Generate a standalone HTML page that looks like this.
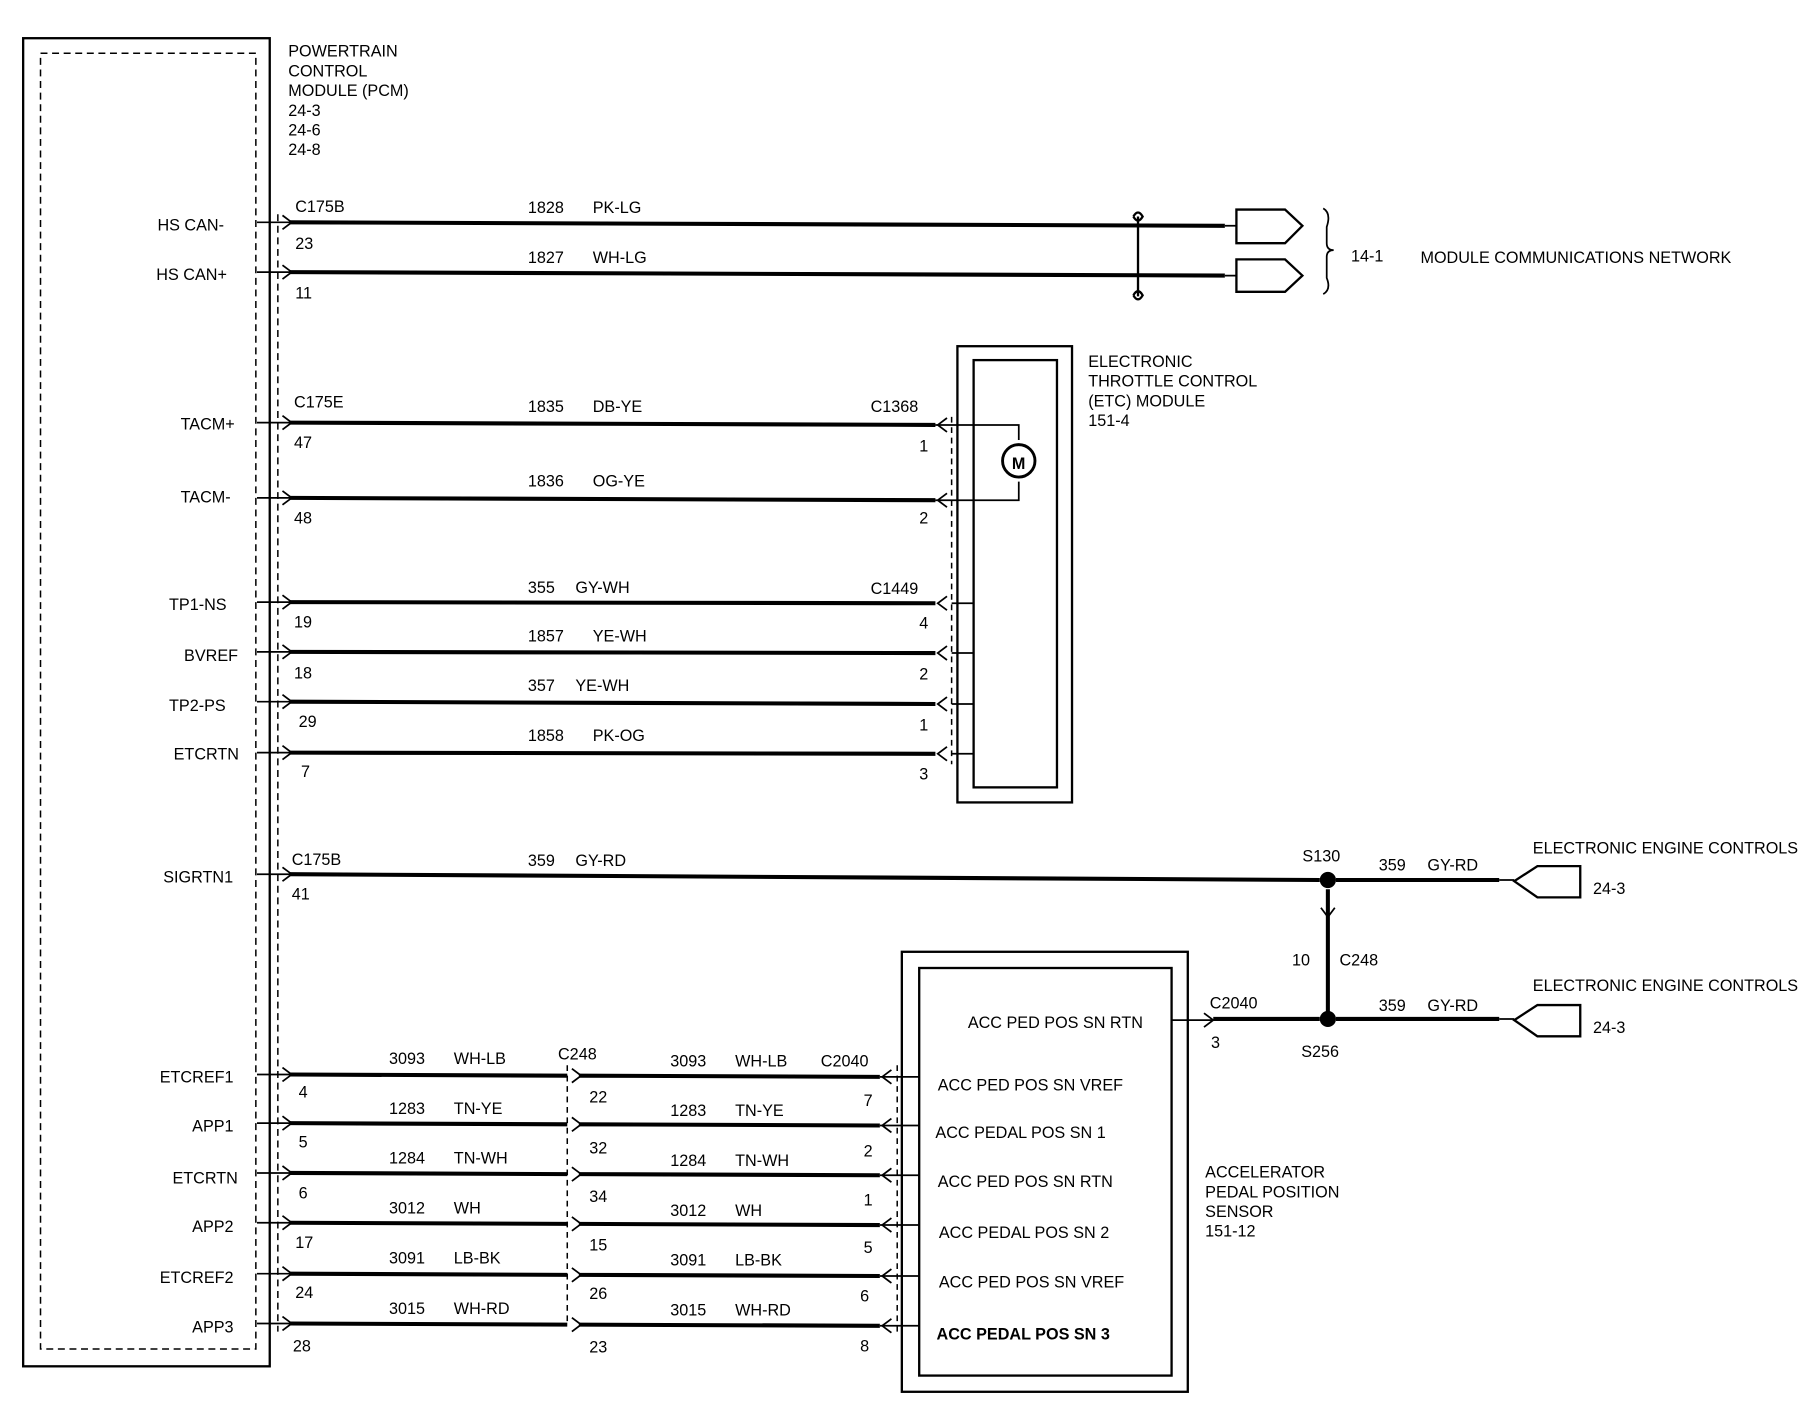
<!DOCTYPE html>
<html><head><meta charset="utf-8"><style>
html,body{margin:0;padding:0;background:#fff}
svg{display:block}
text{font-family:"Liberation Sans",sans-serif;font-size:14px;fill:#000}
</style></head><body>
<svg width="1806" height="1408" viewBox="0 0 1560 1216" preserveAspectRatio="none" xmlns="http://www.w3.org/2000/svg">
<g fill="none" stroke="#000">
<!-- PCM -->
<rect x="20" y="33" width="213" height="1147" stroke-width="2"/>
<rect x="35" y="46" width="186" height="1119" stroke-width="1.3" stroke-dasharray="6,4"/>
<line x1="240" y1="185" x2="240" y2="1150" stroke-width="1.3" stroke-dasharray="6,4"/>
<!-- ETC box -->
<rect x="827" y="299" width="99" height="394" stroke-width="2"/>
<rect x="841" y="311" width="72" height="369" stroke-width="2"/>
<line x1="822" y1="360" x2="822" y2="660" stroke-width="1.3" stroke-dasharray="5,4"/>
<!-- APP box -->
<rect x="779" y="822" width="247" height="380" stroke-width="2"/>
<rect x="794" y="836" width="218" height="352" stroke-width="2"/>
<line x1="775" y1="920" x2="775" y2="1150" stroke-width="1.3" stroke-dasharray="5,4"/>
<line x1="490" y1="920" x2="490" y2="1145" stroke-width="1.3" stroke-dasharray="5,4"/>
</g>
<g stroke="#000" stroke-width="3.5" fill="none">
<line x1="250" y1="192" x2="1058" y2="195"/>
<line x1="250" y1="235" x2="1058" y2="238"/>
<line x1="250" y1="365" x2="808" y2="367"/>
<line x1="250" y1="430" x2="808" y2="432"/>
<line x1="250" y1="520" x2="808" y2="521"/>
<line x1="250" y1="563" x2="808" y2="564"/>
<line x1="250" y1="606" x2="808" y2="608"/>
<line x1="250" y1="650" x2="808" y2="651"/>
<line x1="250" y1="755" x2="1140" y2="760"/>
<line x1="1154" y1="760" x2="1295" y2="760"/>
<line x1="1147" y1="768" x2="1147" y2="875"/>
<line x1="1048" y1="880" x2="1140" y2="880"/>
<line x1="1154" y1="880" x2="1295" y2="880"/>
<line x1="250" y1="928" x2="490" y2="929"/><line x1="500" y1="929" x2="760" y2="930"/>
<line x1="250" y1="970" x2="490" y2="971"/><line x1="500" y1="971" x2="760" y2="972"/>
<line x1="250" y1="1013" x2="490" y2="1014"/><line x1="500" y1="1014" x2="760" y2="1015"/>
<line x1="250" y1="1056" x2="490" y2="1057"/><line x1="500" y1="1057" x2="760" y2="1058"/>
<line x1="250" y1="1100" x2="490" y2="1101"/><line x1="500" y1="1101" x2="760" y2="1102"/>
<line x1="250" y1="1143" x2="490" y2="1144"/><line x1="500" y1="1144" x2="760" y2="1145"/>
</g>
<g stroke="#000" stroke-width="1.5" fill="none">
<!-- left stubs and chevrons -->
<path d="M222 192H252M244 186L252 192L244 198"/>
<path d="M222 235H252M244 229L252 235L244 241"/>
<path d="M222 365H252M244 359L252 365L244 371"/>
<path d="M222 430H252M244 424L252 430L244 436"/>
<path d="M222 520H252M244 514L252 520L244 526"/>
<path d="M222 563H252M244 557L252 563L244 569"/>
<path d="M222 606H252M244 600L252 606L244 612"/>
<path d="M222 650H252M244 644L252 650L244 656"/>
<path d="M222 755H252M244 749L252 755L244 761"/>
<path d="M222 928H252M244 922L252 928L244 934"/>
<path d="M222 970H252M244 964L252 970L244 976"/>
<path d="M222 1013H252M244 1007L252 1013L244 1019"/>
<path d="M222 1056H252M244 1050L252 1056L244 1062"/>
<path d="M222 1100H252M244 1094L252 1100L244 1106"/>
<path d="M222 1143H252M244 1137L252 1143L244 1149"/>
<!-- mid chevrons C248 -->
<path d="M494 923L502 929L494 935M494 965L502 971L494 977M494 1008L502 1014L494 1020M494 1051L502 1057L494 1063M494 1095L502 1101L494 1107M494 1138L502 1144L494 1150"/>
<!-- right chevrons ETC -->
<path d="M818 361L810 367L818 373M818 426L810 432L818 438M818 515L810 521L818 527M818 558L810 564L818 570M818 602L810 608L818 614M818 645L810 651L818 657"/>
<path d="M808 367H880V380M808 432H880V416M822 521H841M822 564H841M822 608H841M822 651H841"/>
<!-- right chevrons APP -->
<path d="M770 924L762 930L770 936M770 966L762 972L770 978M770 1009L762 1015L770 1021M770 1052L762 1058L770 1064M770 1096L762 1102L770 1108M770 1139L762 1145L770 1151"/>
<path d="M760 930H794M760 972H794M760 1015H794M760 1058H794M760 1102H794M760 1145H794"/>
<!-- APP RTN out -->
<path d="M1012 881H1048M1040 875L1048 881L1040 887"/>
<path d="M1141 784L1147 792L1153 784"/>
<!-- CAN connectors -->
<path d="M1058 195H1068M1058 238H1068"/>
<path d="M1068 181H1110L1125 195L1110 210H1068Z" stroke-width="2"/>
<path d="M1068 224H1110L1125 238L1110 252H1068Z" stroke-width="2"/>
<path d="M1143 180Q1150 184 1146 196V210Q1146 216 1152 216Q1146 216 1146 222V240Q1150 250 1143 254" stroke-width="1.5"/>
<!-- twist -->
<path d="M983 187V256M979 187Q983 180 987 187Q983 194 979 187M979 255Q983 248 987 255Q983 262 979 255" stroke-width="2"/>
<!-- EEC connectors -->
<path d="M1295 760H1308M1295 880H1308"/>
<path d="M1365 748H1328L1308 761L1328 775H1365Z" stroke-width="2"/>
<path d="M1365 868H1328L1308 881L1328 895H1365Z" stroke-width="2"/>
<!-- motor -->
<circle cx="880" cy="398" r="14" stroke-width="2.5"/>
</g>
<circle cx="1147" cy="760" r="7" fill="#000"/>
<circle cx="1147" cy="880" r="7" fill="#000"/>
<text x="874" y="405" style="font-size:14px;font-weight:bold">M</text>

<g>
<text x="249" y="49">POWERTRAIN</text>
<text x="249" y="66">CONTROL</text>
<text x="249" y="83">MODULE (PCM)</text>
<text x="249" y="100">24-3</text>
<text x="249" y="117">24-6</text>
<text x="249" y="134">24-8</text>

<text x="136" y="199">HS CAN-</text>
<text x="135" y="242">HS CAN+</text>
<text x="156" y="371">TACM+</text>
<text x="156" y="434">TACM-</text>
<text x="146" y="527">TP1-NS</text>
<text x="159" y="571">BVREF</text>
<text x="146" y="614">TP2-PS</text>
<text x="150" y="656">ETCRTN</text>
<text x="141" y="762">SIGRTN1</text>
<text x="138" y="935">ETCREF1</text>
<text x="166" y="977">APP1</text>
<text x="149" y="1022">ETCRTN</text>
<text x="166" y="1064">APP2</text>
<text x="138" y="1108">ETCREF2</text>
<text x="166" y="1151">APP3</text>

<text x="255" y="183">C175B</text><text x="255" y="215">23</text>
<text x="456" y="184">1828</text><text x="512" y="184">PK-LG</text>
<text x="255" y="258">11</text>
<text x="456" y="227">1827</text><text x="512" y="227">WH-LG</text>
<text x="1167" y="226">14-1</text>
<text x="1227" y="227">MODULE COMMUNICATIONS NETWORK</text>

<text x="940" y="317">ELECTRONIC</text>
<text x="940" y="334">THROTTLE CONTROL</text>
<text x="940" y="351">(ETC) MODULE</text>
<text x="940" y="368">151-4</text>

<text x="254" y="352">C175E</text><text x="254" y="387">47</text>
<text x="456" y="356">1835</text><text x="512" y="356">DB-YE</text>
<text x="752" y="356">C1368</text><text x="794" y="390">1</text>
<text x="254" y="452">48</text>
<text x="456" y="420">1836</text><text x="512" y="420">OG-YE</text>
<text x="794" y="452">2</text>
<text x="254" y="542">19</text>
<text x="456" y="512">355</text><text x="497" y="512">GY-WH</text>
<text x="752" y="513">C1449</text><text x="794" y="543">4</text>
<text x="254" y="586">18</text>
<text x="456" y="554">1857</text><text x="512" y="554">YE-WH</text><text x="794" y="587">2</text>
<text x="258" y="628">29</text>
<text x="456" y="597">357</text><text x="497" y="597">YE-WH</text><text x="794" y="631">1</text>
<text x="260" y="671">7</text>
<text x="456" y="640">1858</text><text x="512" y="640">PK-OG</text><text x="794" y="673">3</text>

<text x="252" y="747">C175B</text><text x="252" y="777">41</text>
<text x="456" y="748">359</text><text x="497" y="748">GY-RD</text>
<text x="1125" y="744">S130</text>
<text x="1191" y="752">359</text><text x="1233" y="752">GY-RD</text>
<text x="1324" y="737">ELECTRONIC ENGINE CONTROLS</text>
<text x="1376" y="772">24-3</text>
<text x="1116" y="834">10</text><text x="1157" y="834">C248</text>
<text x="1045" y="871">C2040</text><text x="1046" y="905">3</text>
<text x="1124" y="913">S256</text>
<text x="1191" y="873">359</text><text x="1233" y="873">GY-RD</text>
<text x="1324" y="856">ELECTRONIC ENGINE CONTROLS</text>
<text x="1376" y="892">24-3</text>

<text x="836" y="888">ACC PED POS SN RTN</text>
<text x="810" y="942">ACC PED POS SN VREF</text>
<text x="808" y="983">ACC PEDAL POS SN 1</text>
<text x="810" y="1025">ACC PED POS SN RTN</text>
<text x="811" y="1069">ACC PEDAL POS SN 2</text>
<text x="811" y="1112">ACC PED POS SN VREF</text>
<text x="809" y="1157" style="font-weight:bold">ACC PEDAL POS SN 3</text>

<text x="1041" y="1017">ACCELERATOR</text>
<text x="1041" y="1034">PEDAL POSITION</text>
<text x="1041" y="1051">SENSOR</text>
<text x="1041" y="1068">151-12</text>

<text x="482" y="915">C248</text>
<text x="709" y="921">C2040</text>
<text x="336" y="919">3093</text><text x="392" y="919">WH-LB</text>
<text x="579" y="921">3093</text><text x="635" y="921">WH-LB</text>
<text x="258" y="948">4</text><text x="509" y="952">22</text><text x="746" y="955">7</text>
<text x="336" y="962">1283</text><text x="392" y="962">TN-YE</text>
<text x="579" y="964">1283</text><text x="635" y="964">TN-YE</text>
<text x="258" y="991">5</text><text x="509" y="996">32</text><text x="746" y="999">2</text>
<text x="336" y="1005">1284</text><text x="392" y="1005">TN-WH</text>
<text x="579" y="1007">1284</text><text x="635" y="1007">TN-WH</text>
<text x="258" y="1035">6</text><text x="509" y="1038">34</text><text x="746" y="1041">1</text>
<text x="336" y="1048">3012</text><text x="392" y="1048">WH</text>
<text x="579" y="1050">3012</text><text x="635" y="1050">WH</text>
<text x="255" y="1078">17</text><text x="509" y="1080">15</text><text x="746" y="1082">5</text>
<text x="336" y="1091">3091</text><text x="392" y="1091">LB-BK</text>
<text x="579" y="1093">3091</text><text x="635" y="1093">LB-BK</text>
<text x="255" y="1121">24</text><text x="509" y="1122">26</text><text x="743" y="1124">6</text>
<text x="336" y="1135">3015</text><text x="392" y="1135">WH-RD</text>
<text x="579" y="1136">3015</text><text x="635" y="1136">WH-RD</text>
<text x="253" y="1167">28</text><text x="509" y="1168">23</text><text x="743" y="1167">8</text>
</g>
</svg>
</body></html>
